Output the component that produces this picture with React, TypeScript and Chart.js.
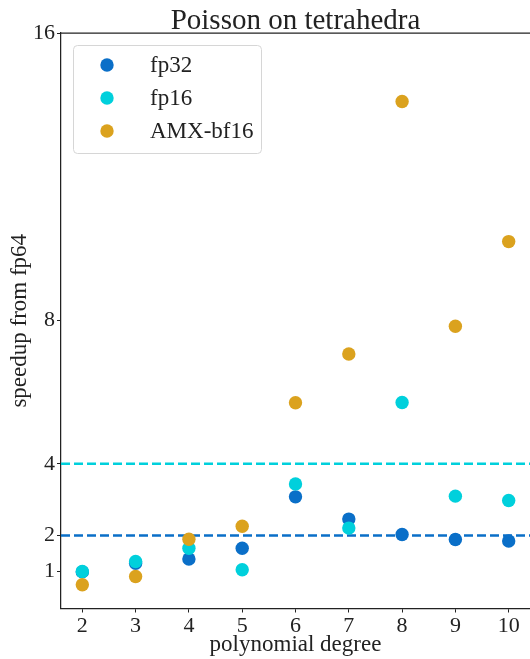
import React, { useEffect, useRef } from "react";
import { Chart, registerables } from "chart.js";

Chart.register(...registerables);

const degrees = [2, 3, 4, 5, 6, 7, 8, 9, 10];
const fp32Speedup = [0.99, 1.23, 1.35, 1.65, 3.08, 2.46, 2.03, 1.89, 1.85];
const fp16Speedup = [1.0, 1.28, 1.65, 1.05, 3.44, 2.21, 5.71, 3.1, 2.98];
const amxSpeedup = [0.63, 0.86, 1.9, 2.26, 5.7, 7.06, 14.09, 7.83, 10.19];
const yTickValues = [1, 2, 4, 8, 16];
const xTickValues = [2, 3, 4, 5, 6, 7, 8, 9, 10];
const refLevels = [2, 4];
const refColors = ["#0a6fc8", "#00d0dc"];
const seriesLabels = ["fp32", "fp16", "AMX-bf16"];
const seriesColors = ["#0a6fc8", "#00d0dc", "#dba21e"];

const X_MIN = 1.6;
const X_MAX = 10.4;
const Y_MIN = -0.03;
const Y_MAX = 16;

const FONT = "'Liberation Serif', 'Times New Roman', serif";

const frame = {
  id: "frame",
  afterDatasetsDraw(chart: any) {
    const { ctx, chartArea } = chart;
    ctx.save();
    ctx.strokeStyle = "#222";
    ctx.lineWidth = 1.25;
    ctx.beginPath();
    ctx.moveTo(chartArea.left, chartArea.top);
    ctx.lineTo(chartArea.right, chartArea.top);
    ctx.stroke();

    // title
    ctx.fillStyle = "#222";
    ctx.font = `29px ${FONT}`;
    ctx.textAlign = "center";
    ctx.textBaseline = "alphabetic";
    ctx.fillText("Poisson on tetrahedra", (chartArea.left + chartArea.right) / 2, chartArea.top - 4);

    // legend
    const bx = chartArea.left + 12;
    const by = chartArea.top + 12;
    const bw = 188;
    const bh = 108;
    ctx.fillStyle = "rgba(255,255,255,0.85)";
    ctx.strokeStyle = "#d6d6d6";
    ctx.lineWidth = 1;
    ctx.beginPath();
    ctx.roundRect(bx + 0.5, by + 0.5, bw, bh, 4);
    ctx.fill();
    ctx.stroke();
    ctx.font = `23px ${FONT}`;
    ctx.textAlign = "left";
    ctx.textBaseline = "middle";
    seriesLabels.forEach((lab, i) => {
      const cy = by + 20 + i * 33;
      ctx.fillStyle = seriesColors[i];
      ctx.beginPath();
      ctx.arc(bx + 34, cy, 6.7, 0, Math.PI * 2);
      ctx.fill();
      ctx.fillStyle = "#222";
      ctx.fillText(lab, bx + 77, cy + 1);
    });
    ctx.restore();
  },
};

export default function App() {
  const ref = useRef<HTMLCanvasElement | null>(null);

  useEffect(() => {
    if (!ref.current) return;
    const mk = (vals: number[]) => degrees.map((d, i) => ({ x: d, y: vals[i] }));
    const refSets = refLevels.map((lv, i) => ({
      type: "line" as const,
      label: `ref${lv}`,
      data: [
        { x: X_MIN, y: lv },
        { x: X_MAX, y: lv },
      ],
      borderColor: refColors[i],
      borderWidth: 2.5,
      borderDash: [9, 4],
      pointRadius: 0,
      order: 10,
    }));
    const series = [fp32Speedup, fp16Speedup, amxSpeedup].map((vals, i) => ({
      type: "scatter" as const,
      label: seriesLabels[i],
      data: mk(vals),
      backgroundColor: seriesColors[i],
      borderColor: seriesColors[i],
      borderWidth: 0,
      pointRadius: 6.7,
      pointHoverRadius: 6.7,
      order: 3 - i,
    }));
    const chart = new Chart(ref.current, {
      type: "scatter",
      data: { datasets: [...refSets, ...series] as any },
      options: {
        animation: false,
        responsive: false,
        layout: { autoPadding: false, padding: { top: 33, right: 0, left: 0, bottom: 0 } },
        plugins: { legend: { display: false }, title: { display: false }, tooltip: { enabled: false } },
        scales: {
          x: {
            type: "linear",
            min: X_MIN,
            max: X_MAX,
            afterBuildTicks: (s: any) => {
              s.ticks = xTickValues.map((v) => ({ value: v }));
            },
            afterFit: (s: any) => {
              s.height = 50.5;
              s.paddingRight = 0;
              s.paddingLeft = 0;
            },
            ticks: {
              color: "#222",
              font: { family: FONT, size: 22 },
              padding: 1,
              maxRotation: 0,
              autoSkip: false,
              callback: (v: any) => String(v),
            },
            grid: { display: true, drawOnChartArea: false, drawTicks: true, tickLength: 4, color: "#222", tickWidth: 1 },
            border: { display: true, color: "#222", width: 1.25 },
            title: {
              display: true,
              text: "polynomial degree",
              color: "#222",
              font: { family: FONT, size: 23 },
              padding: { top: 0, bottom: 0 },
            },
          },
          y: {
            type: "linear",
            min: Y_MIN,
            max: Y_MAX,
            afterBuildTicks: (s: any) => {
              s.ticks = yTickValues.map((v) => ({ value: v }));
            },
            afterFit: (s: any) => {
              s.width = 61;
            },
            ticks: {
              color: "#222",
              font: { family: FONT, size: 22 },
              padding: 2,
              autoSkip: false,
              callback: (v: any) => String(v),
            },
            grid: { display: true, drawOnChartArea: false, drawTicks: true, tickLength: 4, color: "#222", tickWidth: 1 },
            border: { display: true, color: "#222", width: 1.25 },
            title: {
              display: true,
              text: "speedup from fp64",
              color: "#222",
              font: { family: FONT, size: 23 },
              padding: { top: 6, bottom: 0 },
            },
          },
        },
      },
      plugins: [frame],
    });
    return () => chart.destroy();
  }, []);

  return (
    <div style={{ position: "absolute", left: 0, top: 0, width: 530, height: 659 }}>
      <canvas ref={ref} width={530} height={659} style={{ display: "block", width: 530, height: 659 }} />
    </div>
  );
}
